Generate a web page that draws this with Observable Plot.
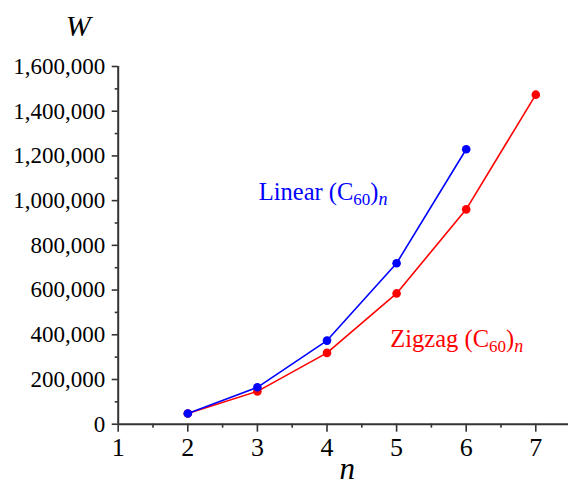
<!DOCTYPE html>
<html>
<head>
<meta charset="utf-8">
<script src="https://cdn.jsdelivr.net/npm/d3@7"></script>
<script src="https://cdn.jsdelivr.net/npm/@observablehq/plot@0.6"></script>
<style>
  html, body { margin: 0; padding: 0; background: #fff; }
  #chart svg { display: block; }
</style>
</head>
<body>
<div id="chart"></div>
<script>
// Data
const linearN = [2, 3, 4, 5, 6];
const linearW = [48000, 165000, 374000, 720000, 1230000];
const zigzagN = [2, 3, 4, 5, 6, 7];
const zigzagW = [48000, 147000, 319000, 585000, 961000, 1474000];
const xTicks = [1, 2, 3, 4, 5, 6, 7];
const xMinor = [1.5, 2.5, 3.5, 4.5, 5.5, 6.5];
const yTicks = [0, 200000, 400000, 600000, 800000, 1000000, 1200000, 1400000, 1600000];
const yMinor = [100000, 300000, 500000, 700000, 900000, 1100000, 1300000, 1500000];
const seriesNames = ["Linear", "Zigzag"];

const linear = linearN.map((n, i) => ({n, w: linearW[i]}));
const zigzag = zigzagN.map((n, i) => ({n, w: zigzagW[i]}));

const BLUE = "#0000ff", RED = "#ff0000", AXIS = "#333333";
const FONT = "Liberation Serif, DejaVu Serif, serif";

const chart = Plot.plot({
  width: 568,
  height: 486,
  marginLeft: 117.7,
  marginRight: 0,
  marginTop: 66,
  marginBottom: 62.3,
  style: {fontFamily: FONT, color: "#000", background: "#fff"},
  x: {domain: [1, 7.47]},
  y: {domain: [0, 1600000]},
  marks: [
    // axis lines
    Plot.ruleY([0], {stroke: AXIS, strokeWidth: 2}),
    Plot.ruleX([1], {stroke: AXIS, strokeWidth: 2}),
    // x axis
    Plot.axisX({ticks: xTicks, tickSize: 8, tickPadding: 5, tickFormat: d => String(d),
                fontSize: 26, stroke: AXIS, strokeWidth: 1.6, label: null}),
    Plot.axisX({ticks: xMinor, tickSize: 4, tickFormat: () => "", stroke: AXIS, strokeWidth: 1.6, label: null}),
    // y axis
    Plot.axisY({ticks: yTicks, tickSize: 6, tickPadding: 7, tickFormat: d3.format(","),
                fontSize: 23, stroke: AXIS, strokeWidth: 1.6, label: null}),
    Plot.axisY({ticks: yMinor, tickSize: 3, tickFormat: () => "", stroke: AXIS, strokeWidth: 1.6, label: null}),
    // series
    Plot.line(zigzag, {x: "n", y: "w", stroke: RED, strokeWidth: 1.6}),
    Plot.dot(zigzag, {x: "n", y: "w", fill: RED, r: 4.3}),
    Plot.line(linear, {x: "n", y: "w", stroke: BLUE, strokeWidth: 1.6}),
    Plot.dot(linear, {x: "n", y: "w", fill: BLUE, r: 4.3}),
    // series labels (subscripts added after render)
    Plot.text([seriesNames[0]], {x: 3.02, y: 1005000, text: d => d, fill: BLUE, fontSize: 24.5,
               textAnchor: "start", lineAnchor: "bottom"}),
    Plot.text([seriesNames[1]], {x: 4.91, y: 347000, text: d => d, fill: RED, fontSize: 24.5,
               textAnchor: "start", lineAnchor: "bottom"}),
    // axis titles
    Plot.text(["W"], {frameAnchor: "top-left", text: d => d, dx: -40, dy: -31, fontSize: 30,
                      fontStyle: "italic", textAnchor: "middle", lineAnchor: "bottom", fill: "#000"}),
    Plot.text(["n"], {frameAnchor: "bottom", text: d => d, dx: 4, dy: 55, fontSize: 31,
                      fontStyle: "italic", textAnchor: "middle", lineAnchor: "bottom", fill: "#000"})
  ]
});

// Build subscripts: "Name (C60)n"
d3.select(chart).selectAll("text").each(function() {
  const t = d3.select(this);
  const name = t.text();
  if (!seriesNames.includes(name)) return;
  t.text(null);
  t.append("tspan").text(name + " (C");
  t.append("tspan").attr("dy", 5).attr("font-size", 17).text("60");
  t.append("tspan").attr("dy", -5).text(")");
  t.append("tspan").attr("dy", 5).attr("font-size", 18).attr("font-style", "italic").text("n");
});

document.getElementById("chart").appendChild(chart);
</script>
</body>
</html>
